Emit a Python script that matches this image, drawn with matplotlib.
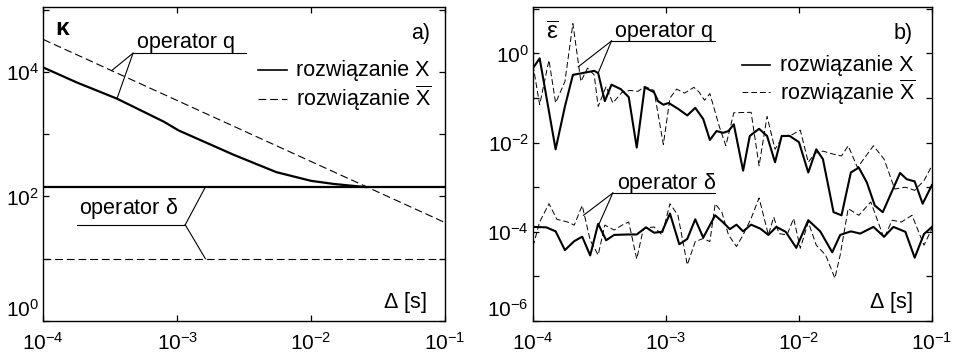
import numpy as np
import matplotlib
matplotlib.use("Agg")
import matplotlib.pyplot as plt
from matplotlib.ticker import FixedLocator, FuncFormatter, NullLocator

plt.rcParams["font.family"] = ["Liberation Sans", "DejaVu Sans"]
plt.rcParams["mathtext.fontset"] = "custom"
plt.rcParams["mathtext.rm"] = "Liberation Sans"
plt.rcParams["mathtext.it"] = "Liberation Sans:italic"
plt.rcParams["mathtext.default"] = "regular"

# ── Panel a) condition number kappa (values as log10 exponents) ─────────────
a_q_X_lx = [-4.00, -3.75, -3.45, -3.10, -2.99, -2.58, -2.26, -2.00, -1.83, -1.64, -1.59]
a_q_X_ly = [4.07, 3.83, 3.57, 3.20, 3.06, 2.67, 2.39, 2.25, 2.20, 2.16, 2.15]
a_q_Xb_lx = [-4.00, -1.00]
a_q_Xb_ly = [4.52, 1.58]
a_d_X_ly = 2.15    # operator delta, solution X
a_d_Xb_ly = 1.00   # operator delta, solution X-bar

# ── Panel b) mean error eps (values as log10 exponents) ─────────────────────
b_q_X_lx = [-4.00, -3.95, -3.83, -3.76, -3.70, -3.61, -3.54, -3.51, -3.46, -3.41,
            -3.34, -3.28, -3.22, -3.16, -3.09, -3.06, -3.02, -2.98, -2.91, -2.84,
            -2.78, -2.72, -2.67, -2.62, -2.57, -2.53, -2.49, -2.42, -2.37, -2.30,
            -2.24, -2.18, -2.13, -2.07, -2.00, -1.93, -1.87, -1.82, -1.74, -1.68,
            -1.61, -1.55, -1.49, -1.43, -1.37, -1.24, -1.19, -1.13, -1.07, -1.00]
b_q_X_ly = [-0.33, -0.11, -2.15, -1.19, -0.48, -0.43, -0.39, -0.44, -1.07, -0.70,
            -0.80, -0.98, -2.11, -0.76, -0.87, -1.07, -1.15, -1.11, -1.24, -1.39,
            -1.22, -1.47, -1.94, -1.74, -1.78, -1.74, -1.59, -2.63, -1.85, -1.69,
            -1.85, -2.44, -1.85, -1.85, -1.99, -2.67, -2.15, -2.37, -3.56, -3.63,
            -2.67, -2.56, -2.89, -3.41, -3.56, -2.68, -2.82, -2.87, -3.37, -2.95]

b_q_Xb_lx = [-4.00, -3.95, -3.88, -3.83, -3.76, -3.70, -3.64, -3.59, -3.54, -3.51,
             -3.45, -3.40, -3.33, -3.27, -3.21, -3.16, -3.09, -3.02, -2.97, -2.92,
             -2.86, -2.79, -2.75, -2.71, -2.67, -2.60, -2.55, -2.49, -2.36, -2.30,
             -2.24, -2.18, -2.12, -2.05, -1.99, -1.93, -1.88, -1.82, -1.74, -1.68,
             -1.63, -1.56, -1.44, -1.36, -1.28, -1.20, -1.13, -1.06, -1.00]
b_q_Xb_ly = [-0.26, -1.15, -0.15, -1.11, -0.63, 0.67, -0.63, -0.33, -0.48, -1.19,
             -0.74, -1.11, -0.87, -0.83, -0.85, -0.74, -0.83, -2.04, -1.00, -0.80,
             -0.89, -0.76, -0.87, -1.05, -0.90, -1.63, -2.07, -1.33, -1.32, -2.52,
             -1.41, -2.15, -1.85, -1.82, -1.72, -2.44, -2.24, -2.19, -2.26, -2.30,
             -2.07, -2.56, -2.07, -2.37, -3.04, -3.00, -3.07, -2.85, -2.52]

b_d_X_lx = [-4.00, -3.90, -3.83, -3.76, -3.69, -3.63, -3.57, -3.51, -3.45, -3.39,
            -3.29, -3.22, -3.15, -3.09, -3.03, -2.97, -2.90, -2.84, -2.78, -2.72,
            -2.63, -2.57, -2.52, -2.47, -2.42, -2.36, -2.29, -2.23, -2.17, -2.10,
            -2.02, -1.93, -1.84, -1.75, -1.69, -1.61, -1.54, -1.44, -1.36, -1.29,
            -1.20, -1.13, -1.06, -1.00]
b_d_X_ly = [-3.89, -3.90, -3.99, -4.41, -4.21, -4.11, -4.53, -3.82, -4.19, -4.07,
            -4.06, -4.06, -3.90, -4.02, -4.00, -3.59, -4.28, -4.16, -3.72, -4.13,
            -3.63, -3.79, -3.94, -3.84, -3.99, -3.84, -3.93, -4.07, -3.89, -4.00,
            -4.36, -3.74, -3.99, -4.46, -4.07, -3.99, -4.04, -3.89, -4.11, -3.89,
            -4.00, -4.58, -4.05, -3.89]

b_d_Xb_lx = [-4.00, -3.95, -3.88, -3.82, -3.74, -3.69, -3.63, -3.57, -3.51, -3.46,
             -3.39, -3.33, -3.28, -3.22, -3.17, -3.09, -3.03, -2.97, -2.91, -2.84,
             -2.78, -2.72, -2.67, -2.63, -2.58, -2.53, -2.47, -2.42, -2.36, -2.30,
             -2.23, -2.19, -2.15, -2.09, -2.04, -1.99, -1.93, -1.87, -1.80, -1.73,
             -1.69, -1.63, -1.55, -1.46, -1.36, -1.30, -1.23, -1.15, -1.06, -1.00]
b_d_Xb_ly = [-4.33, -3.78, -3.37, -3.72, -3.78, -3.85, -3.41, -4.19, -4.52, -3.85,
             -3.96, -3.85, -3.78, -4.61, -3.93, -3.89, -4.07, -3.37, -3.63, -4.74,
             -4.22, -4.15, -4.22, -3.37, -3.56, -4.07, -4.33, -4.07, -3.70, -3.24,
             -4.07, -3.67, -4.04, -4.07, -3.70, -4.37, -3.78, -4.30, -4.52, -5.04,
             -4.52, -3.48, -3.63, -3.33, -4.15, -3.74, -3.78, -3.63, -4.30, -3.93]

FS_TICK = 15
FS_TEXT = 15.5
DASH = (0, (7, 3.5))
XB = r"rozwiązanie $\overline{\mathrm{X}}$"


def p(v):
    return 10.0 ** np.asarray(v, dtype=float)


def style_axes(ax, y_ticks, y_labelled):
    ax.set_xscale("log")
    ax.set_yscale("log")
    ax.set_xlim(1e-4, 1e-1)
    ax.xaxis.set_major_locator(FixedLocator([1e-4, 1e-3, 1e-2, 1e-1]))
    ax.xaxis.set_major_formatter(FuncFormatter(
        lambda v, _: r"$10^{%d}$" % round(np.log10(v))))
    ax.yaxis.set_major_locator(FixedLocator(p(y_ticks)))
    ax.yaxis.set_major_formatter(FuncFormatter(
        lambda v, _: r"$10^{%d}$" % round(np.log10(v))
        if round(np.log10(v)) in y_labelled else ""))
    ax.xaxis.set_minor_locator(NullLocator())
    ax.yaxis.set_minor_locator(NullLocator())
    ax.tick_params(direction="in", length=4, width=0.9, top=True, right=True,
                   labelsize=FS_TICK, pad=3)
    ax.tick_params(axis="x", pad=8)
    for s in ax.spines.values():
        s.set_linewidth(1.0)


fig = plt.figure(figsize=(9.54, 3.58), dpi=100)
axa = fig.add_axes([0.0454, 0.1034, 0.4211, 0.877])
axb = fig.add_axes([0.5587, 0.1034, 0.4182, 0.877])

# ── Panel a ─────────────────────────────────────────────────────────────────
style_axes(axa, [0, 1, 2, 3, 4, 5], [0, 2, 4])
axa.set_ylim(1e0, 1.1e5)
axa.plot(p(a_q_X_lx), p(a_q_X_ly), color="black", lw=1.6)
axa.plot(p(a_q_Xb_lx), p(a_q_Xb_ly), color="black", lw=0.8, linestyle=DASH)
axa.axhline(10 ** a_d_X_ly, color="black", lw=1.6)
axa.axhline(10 ** a_d_Xb_ly, color="black", lw=0.8, linestyle=DASH)

k = dict(color="black", lw=0.8)
# operator q label + leaders
axa.text(p(-3.30), p(4.47), "operator q", fontsize=FS_TEXT, va="center")
axa.plot(p([-3.33, -2.49]), p([4.30, 4.30]), **k)
axa.plot(p([-3.33, -3.49]), p([4.30, 4.02]), **k)
axa.plot(p([-3.33, -3.45]), p([4.30, 3.57]), **k)
# operator delta label + leaders
axa.text(p(-3.73), p(1.80), r"operator $\delta$", fontsize=FS_TEXT, va="center")
axa.plot(p([-3.75, -2.94]), p([1.545, 1.545]), **k)
axa.plot(p([-2.94, -2.79]), p([1.545, 2.15]), **k)
axa.plot(p([-2.94, -2.79]), p([1.545, 1.00]), **k)
# legend
axa.plot(p([-2.40, -2.18]), p([4.03, 4.03]), color="black", lw=1.2)
axa.plot(p([-2.40, -2.18]), p([3.57, 3.57]), color="black", lw=0.8, linestyle=DASH)
axa.text(p(-2.11), p(4.03), "rozwiązanie X", fontsize=FS_TEXT, va="center")
axa.text(p(-2.11), p(3.57), XB, fontsize=FS_TEXT, va="center")
axa.text(0.03, 0.93, "κ", transform=axa.transAxes, fontsize=FS_TEXT + 2,
         fontweight="bold", va="center")
axa.text(0.963, 0.916, "a)", transform=axa.transAxes, fontsize=FS_TEXT,
         ha="right", va="center")
axa.text(0.955, 0.06, r"$\Delta$ [s]", transform=axa.transAxes,
         fontsize=FS_TEXT, ha="right", va="center")

# ── Panel b ─────────────────────────────────────────────────────────────────
style_axes(axb, [-6, -5, -4, -3, -2, -1, 0, 1], [-6, -4, -2, 0])
axb.set_ylim(1e-6, 1.1e1)
axb.plot(p(b_q_X_lx), p(b_q_X_ly), color="black", lw=1.5)
axb.plot(p(b_q_Xb_lx), p(b_q_Xb_ly), color="black", lw=0.7, linestyle=(0, (6, 3)))
axb.plot(p(b_d_X_lx), p(b_d_X_ly), color="black", lw=1.5)
axb.plot(p(b_d_Xb_lx), p(b_d_Xb_ly), color="black", lw=0.7, linestyle=(0, (6, 3)))

axb.text(p(-3.38), p(0.50), "operator q", fontsize=FS_TEXT, va="center")
axb.plot(p([-3.41, -2.63]), p([0.28, 0.28]), **k)
axb.plot(p([-3.41, -3.66]), p([0.28, -0.30]), **k)
axb.plot(p([-3.41, -3.51]), p([0.28, -0.44]), **k)
axb.text(p(-3.37), p(-2.92), r"operator $\delta$", fontsize=FS_TEXT, va="center")
axb.plot(p([-3.40, -2.63]), p([-3.13, -3.13]), **k)
axb.plot(p([-3.40, -3.62]), p([-3.13, -3.63]), **k)
axb.plot(p([-3.40, -3.51]), p([-3.13, -3.87]), **k)
axb.plot(p([-2.43, -2.22]), p([-0.26, -0.26]), color="black", lw=1.2)
axb.plot(p([-2.43, -2.22]), p([-0.87, -0.87]), color="black", lw=0.7, linestyle=(0, (6, 3)))
axb.text(p(-2.14), p(-0.26), "rozwiązanie X", fontsize=FS_TEXT, va="center")
axb.text(p(-2.14), p(-0.87), XB, fontsize=FS_TEXT, va="center")
axb.text(p(-3.90), p(0.44), r"$\overline{\epsilon}$", fontsize=FS_TEXT + 2,
         va="center")
axb.text(0.952, 0.917, "b)", transform=axb.transAxes, fontsize=FS_TEXT,
         ha="right", va="center")
axb.text(0.952, 0.06, r"$\Delta$ [s]", transform=axb.transAxes,
         fontsize=FS_TEXT, ha="right", va="center")

# lowest y labels sit above the bottom tick, as in the original
fig.canvas.draw()
for ax in (axa, axb):
    ax.yaxis.get_major_ticks()[0].label1.set_verticalalignment("bottom")

fig.savefig("out.png", dpi=100, facecolor="white")
